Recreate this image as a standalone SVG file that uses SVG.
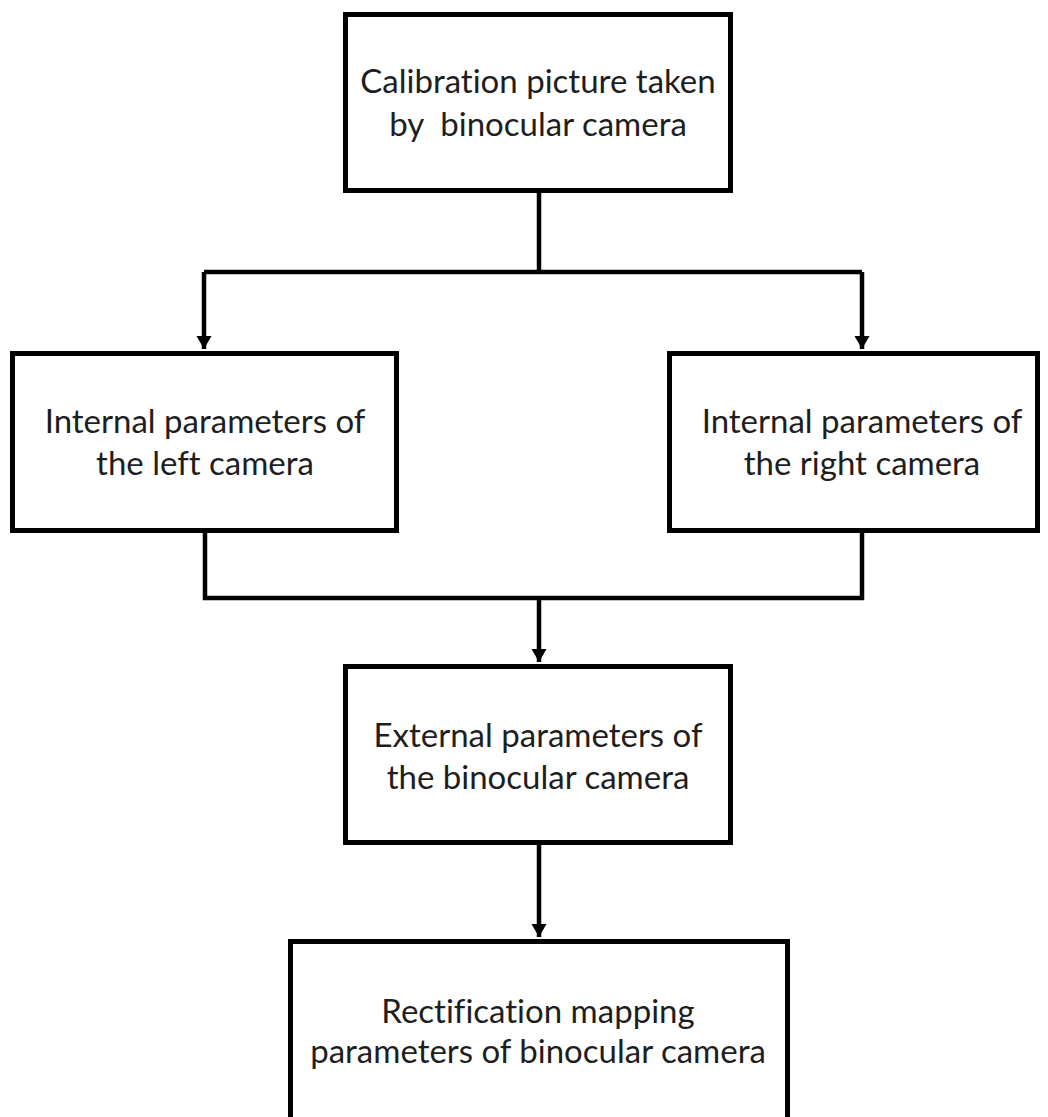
<svg xmlns="http://www.w3.org/2000/svg" width="1048" height="1117" viewBox="0 0 1048 1117">
<style>
.box{fill:#fff;stroke:#000;stroke-width:5}
.lbl{font-family:Lato,"Open Sans","Liberation Sans",sans-serif;font-size:33px;fill:#1e1e1e;text-anchor:middle;white-space:pre;font-variant-ligatures:none}
.conn{fill:none;stroke:#000;stroke-width:4.5}
</style>
<defs>
<marker id="arr" markerUnits="userSpaceOnUse" markerWidth="16" markerHeight="16" refX="13" refY="8" orient="auto">
<path d="M0,0.5 L13,8 L0,15.5 Z" fill="#000"/>
</marker>
</defs>
<rect width="1048" height="1117" fill="#fff"/>
<g id="connectors">
<path class="conn" d="M539,193 V272"/>
<path class="conn" d="M204,272 H862"/>
<path class="conn" d="M204,272 V349" marker-end="url(#arr)"/>
<path class="conn" d="M862,272 V349" marker-end="url(#arr)"/>
<path class="conn" d="M205,533 V598 H862 V533"/>
<path class="conn" d="M539,598 V662" marker-end="url(#arr)"/>
<path class="conn" d="M539,845 V937" marker-end="url(#arr)"/>
</g>
<g id="n1">
<rect class="box" x="345.5" y="14.5" width="385" height="176"/>
<text class="lbl" x="538" y="93">Calibration picture taken</text>
<text class="lbl" x="538" y="136" xml:space="preserve">by  binocular camera</text>
</g>
<g id="n2">
<rect class="box" x="12.5" y="353.5" width="384" height="177"/>
<text class="lbl" x="205" y="433">Internal parameters of</text>
<text class="lbl" x="205" y="475">the left camera</text>
</g>
<g id="n3">
<rect class="box" x="669.5" y="353.5" width="368" height="177"/>
<text class="lbl" x="862" y="433">Internal parameters of</text>
<text class="lbl" x="862" y="475">the right camera</text>
</g>
<g id="n4">
<rect class="box" x="345.5" y="666.5" width="385" height="176"/>
<text class="lbl" x="538" y="747">External parameters of</text>
<text class="lbl" x="538" y="789">the binocular camera</text>
</g>
<g id="n5">
<rect class="box" x="290.5" y="941.5" width="497" height="200"/>
<text class="lbl" x="538" y="1023">Rectification mapping</text>
<text class="lbl" x="538" y="1063">parameters of binocular camera</text>
</g>
</svg>
